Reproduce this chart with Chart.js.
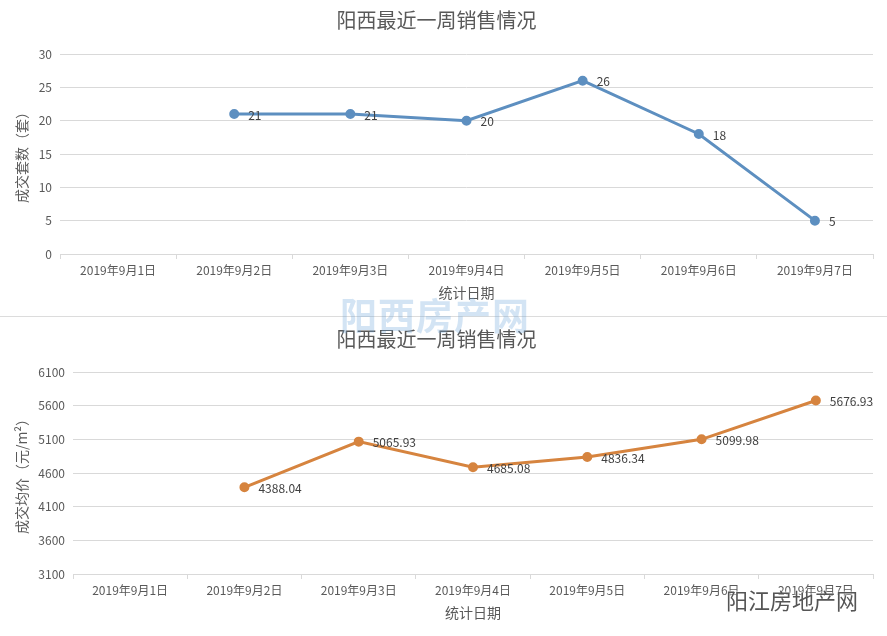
<!DOCTYPE html>
<html>
<head>
<meta charset="utf-8">
<script src="https://cdn.jsdelivr.net/npm/chart.js@4/dist/chart.umd.min.js"></script>
<style>
  html, body { margin: 0; padding: 0; background: #fff; }
  #wrap { position: relative; width: 887px; height: 636px; overflow: hidden; font-family: "Noto Sans CJK SC", sans-serif; }
  .box { position: absolute; left: 0; width: 887px; }
  #top { top: 0; height: 316px; }
  #bottom { top: 316px; height: 320px; }
  #sep { position: absolute; left: 0; top: 316px; width: 887px; height: 1px; background: #dcdcdc; }
  #wm1 { position: absolute; left: 340px; top: 287px; font-size: 37px; font-weight: bold; color: rgba(110, 165, 220, 0.3); letter-spacing: 1px; }
  #wm2 { position: absolute; left: 726px; top: 583px; font-size: 22px; color: #555; text-shadow: 0 0 2px #fff, 0 0 2px #fff; }
</style>
</head>
<body>
<div id="wrap">
  <div class="box" id="top"><canvas id="salesChart" width="887" height="316"></canvas></div>
  <div class="box" id="bottom"><canvas id="priceChart" width="887" height="320"></canvas></div>
  <div id="sep"></div>
  <div id="wm1">阳西房产网</div>
  <div id="wm2">阳江房地产网</div>
</div>
<script>
// dati
const dates = ['2019年9月1日', '2019年9月2日', '2019年9月3日', '2019年9月4日', '2019年9月5日', '2019年9月6日', '2019年9月7日'];
const soldUnits = [null, 21, 21, 20, 26, 18, 5];
const avgPrice = [null, 4388.04, 5065.93, 4685.08, 4836.34, 5099.98, 5676.93];
const unitsTicks = { min: 0, max: 30, step: 5 };
const priceTicks = { min: 3100, max: 6100, step: 500 };

const chartTitle = '阳西最近一周销售情况';
const xTitle = '统计日期';

const font = '"Noto Sans CJK SC", "Noto Sans", sans-serif';

// etichette dei valori a destra di ogni punto
const valueLabels = {
  id: 'valueLabels',
  afterDatasetsDraw(chart) {
    const ctx = chart.ctx;
    ctx.save();
    ctx.font = '12px ' + font;
    ctx.fillStyle = '#404040';
    ctx.textAlign = 'left';
    ctx.textBaseline = 'middle';
    chart.data.datasets.forEach((ds, i) => {
      chart.getDatasetMeta(i).data.forEach((pt, j) => {
        const v = ds.data[j];
        if (v === null || pt.skip) return;
        ctx.fillText(String(v), pt.x + 14, pt.y + 1);
      });
    });
    ctx.restore();
  }
};

function createChart(id, values, ticks, yTitle, color, leftWidth, titlePad) {
  return new Chart(document.getElementById(id), {
    type: 'line',
    data: {
      labels: dates,
      datasets: [{
        data: values,
        borderColor: color,
        backgroundColor: color,
        borderWidth: 3,
        pointRadius: 3.5,
        pointHoverRadius: 3.5,
        tension: 0,
        spanGaps: false
      }]
    },
    options: {
      responsive: false,
      animation: false,
      layout: { padding: { left: 0, right: 14, top: 0, bottom: 0 } },
      plugins: {
        legend: { display: false },
        tooltip: { enabled: false },
        title: {
          display: true,
          text: chartTitle,
          color: '#595959',
          font: { family: font, size: 20, weight: 'normal' },
          padding: titlePad
        }
      },
      scales: {
        x: {
          offset: true,
          afterFit: (s) => { s.height = 62; },
          grid: { offset: true, drawOnChartArea: false, drawTicks: true, tickLength: 5, color: '#d9d9d9' },
          border: { display: true, color: '#d9d9d9' },
          ticks: { color: '#595959', font: { family: font, size: 12 }, padding: 4, maxRotation: 0, autoSkip: false },
          title: { display: true, text: xTitle, color: '#595959', font: { family: font, size: 14 }, padding: { top: 0, bottom: 15 } }
        },
        y: {
          min: ticks.min,
          max: ticks.max,
          afterFit: (s) => { s.width = leftWidth; },
          grid: { color: '#d9d9d9', drawTicks: false },
          border: { display: false },
          ticks: {
            stepSize: ticks.step,
            color: '#595959',
            font: { family: font, size: 12 },
            padding: 8,
            callback: (v) => String(v)
          },
          title: { display: true, text: yTitle, color: '#595959', font: { family: font, size: 14 }, padding: { top: 13, bottom: 0 } }
        }
      }
    },
    plugins: [valueLabels]
  });
}

createChart('salesChart', soldUnits, unitsTicks, '成交套数（套）', '#5d8fc0', 60, { top: 8, bottom: 22 });
createChart('priceChart', avgPrice, priceTicks, '成交均价（元/m²）', '#d6843f', 73, { top: 11, bottom: 21 });
</script>
</body>
</html>
